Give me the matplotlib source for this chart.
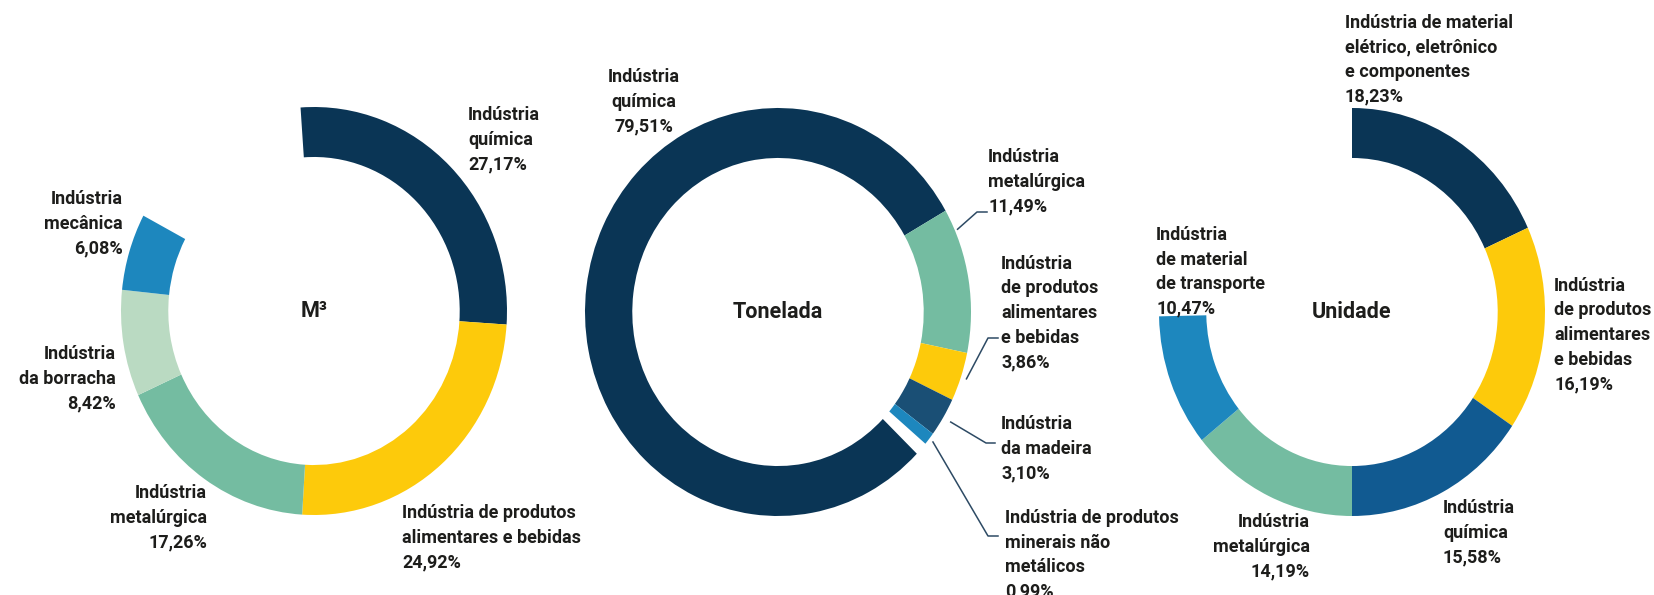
import numpy as np
import matplotlib
matplotlib.use("Agg")
import matplotlib.pyplot as plt
from matplotlib.lines import Line2D

# dados (%)
m3_cat = ["Indústria\nquímica", "Indústria de produtos\nalimentares e bebidas",
          "Indústria\nmetalúrgica", "Indústria\nda borracha", "Indústria\nmecânica"]
m3_val = [27.17, 24.92, 17.26, 8.42, 6.08]

ton_cat = ["Indústria\nquímica", "Indústria\nmetalúrgica",
           "Indústria\nde produtos\nalimentares\ne bebidas", "Indústria\nda madeira",
           "Indústria de produtos\nminerais não\nmetálicos"]
ton_val = [79.51, 11.49, 3.86, 3.10, 0.99]

uni_cat = ["Indústria de material\nelétrico, eletrônico\ne componentes",
           "Indústria\nde produtos\nalimentares\ne bebidas", "Indústria\nquímica",
           "Indústria\nmetalúrgica", "Indústria\nde material\nde transporte"]
uni_val = [18.23, 16.19, 15.58, 14.19, 10.47]

NAVY = "#0a3555"
YEL = "#fdca0b"
GRN = "#74bca1"
LGRN = "#badac2"
BLUE = "#1d87be"
MAD = "#1a4f75"
QUI = "#115a91"
TXT = "#1d1d1b"
LINE = "#2d4a64"

m3_cols = [NAVY, YEL, GRN, LGRN, BLUE]
ton_cols = [NAVY, GRN, YEL, MAD, BLUE]
uni_cols = [NAVY, YEL, QUI, GRN, BLUE]

W, H = 1654, 595
fig = plt.figure(figsize=(W / 100, H / 100), dpi=100)
plt.rcParams['font.family'] = ['Roboto', 'DejaVu Sans']

RX, RY = 193, 204


def fx(x, y):
    return x / W, 1 - y / H


def donut(cx, cy, vals, cols, start, title):
    ax = fig.add_axes([(cx - RX) / W, 1 - (cy + RY) / H, 2 * RX / W, 2 * RY / H])
    rest = 100 - sum(vals)
    wedges, _ = ax.pie(vals + [rest], colors=cols + ["none"], startangle=start,
                       counterclock=False, radius=1,
                       wedgeprops=dict(width=0.245, linewidth=0))
    ax.set_aspect("auto")
    ax.set_xlim(-1, 1)
    ax.set_ylim(-1, 1)
    ax.axis("off")
    ax.text(0, 0, title, ha="center", va="center", fontsize=15.5,
            fontweight="semibold", color=TXT)
    return ax, wedges


def label(x, y, s, ha="left"):
    fig.text(*fx(x, y), s, ha=ha, va="center", multialignment=ha,
             fontsize=13, fontweight="semibold", color=TXT, linespacing=1.47)


def pct(v):
    return f"{v:.2f}".replace(".", ",") + "%"


# M3
donut(314, 311, m3_val, m3_cols, 94, "M³")
m3_pos = [(468, 140, "left"), (402, 538, "left"), (207, 518, "right"),
          (116, 379, "right"), (123, 224, "right")]
for c, v, (x, y, ha) in zip(m3_cat, m3_val, m3_pos):
    label(x, y, c + "\n" + pct(v), ha)

# Tonelada
ax2, w2 = donut(778, 312, ton_val, ton_cols, -44, "Tonelada")
ton_pos = [(644, 102, "center"), (988, 182, "left"), (1001, 313, "left"),
           (1001, 449, "left"), (1005, 555, "left")]
for c, v, (x, y, ha) in zip(ton_cat, ton_val, ton_pos):
    label(x, y, c + "\n" + pct(v), ha)

# linhas de chamada (fatia, fração ao longo da fatia, raio, cotovelo, fim)
leaders = [(1, 0.85, 1.015, (977, 212), 987),
           (2, 0.5, 1.03, (988, 338), 998),
           (3, 0.5, 1.045, (986, 443), 995),
           (4, 0.5, 1.025, (988, 536), 998)]
for i, f, r, (ex, ey), endx in leaders:
    w = w2[i]
    a = np.deg2rad(w.theta1 + f * (w.theta2 - w.theta1))
    sx, sy = 778 + RX * r * np.cos(a), 312 - RY * r * np.sin(a)
    pts = [fx(x, y) for x, y in zip([sx, ex, endx], [sy, ey, ey])]
    fig.add_artist(Line2D([p[0] for p in pts], [p[1] for p in pts],
                          transform=fig.transFigure, color=LINE, lw=1.1))

# Unidade
donut(1352, 312, uni_val, uni_cols, 90, "Unidade")
uni_pos = [(1345, 60, "left"), (1554, 335, "left"), (1443, 533, "left"),
           (1310, 547, "right"), (1156, 272, "left")]
for c, v, (x, y, ha) in zip(uni_cat, uni_val, uni_pos):
    label(x, y, c + "\n" + pct(v), ha)

fig.savefig("out.png", dpi=100, facecolor="white")
